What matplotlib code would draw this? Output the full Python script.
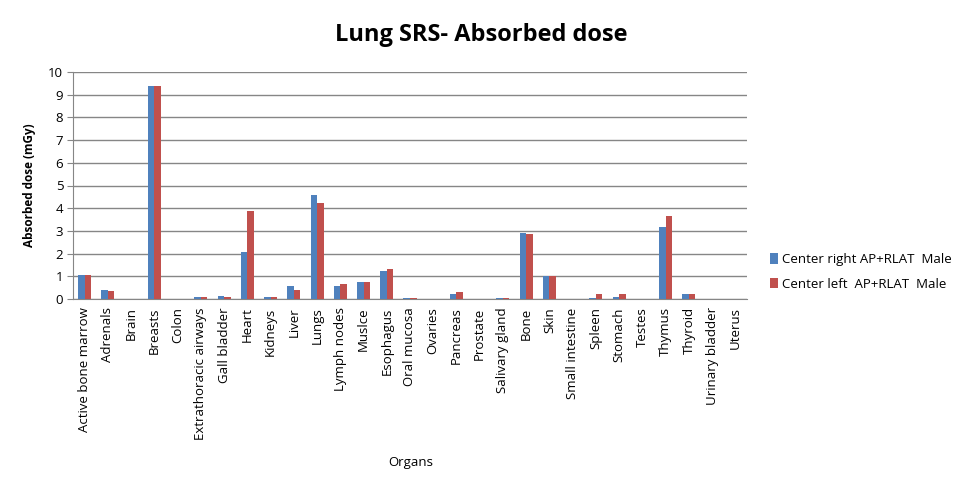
import matplotlib.pyplot as plt
import numpy as np

plt.rcParams["font.family"] = ["Open Sans", "DejaVu Sans"]

organs = [
    "Active bone marrow", "Adrenals", "Brain", "Breasts", "Colon",
    "Extrathoracic airways", "Gall bladder", "Heart", "Kidneys", "Liver",
    "Lungs", "Lymph nodes", "Muslce", "Esophagus", "Oral mucosa", "Ovaries",
    "Pancreas", "Prostate", "Salivary gland", "Bone", "Skin",
    "Small intestine", "Spleen", "Stomach", "Testes", "Thymus", "Thyroid",
    "Urinary bladder", "Uterus",
]
center_right = [
    1.05, 0.40, 0.0, 9.40, 0.0, 0.08, 0.13, 2.08, 0.08, 0.58,
    4.60, 0.58, 0.76, 1.25, 0.04, 0.0, 0.22, 0.0, 0.04, 2.92,
    1.00, 0.0, 0.04, 0.09, 0.0, 3.18, 0.22, 0.0, 0.0,
]
center_left = [
    1.05, 0.35, 0.0, 9.40, 0.0, 0.08, 0.08, 3.88, 0.08, 0.40,
    4.24, 0.66, 0.76, 1.33, 0.04, 0.0, 0.31, 0.0, 0.04, 2.87,
    1.00, 0.0, 0.22, 0.22, 0.0, 3.67, 0.22, 0.0, 0.0,
]
series_names = ["Center right AP+RLAT  Male", "Center left  AP+RLAT  Male"]


def main():
    fig = plt.figure(figsize=(9.62, 4.90), dpi=100)
    ax = fig.add_axes([73 / 962, 1 - 299 / 490, 674 / 962, 227 / 490])

    x = np.arange(len(organs))
    w = 0.28
    ax.bar(x - w / 2, center_right, w, color="#4F81BD", label=series_names[0], zorder=3)
    ax.bar(x + w / 2, center_left, w, color="#C0504D", label=series_names[1], zorder=3)

    ax.set_xlim(-0.5, len(organs) - 0.5)
    ax.set_ylim(0, 10)
    ax.set_yticks(range(0, 11))
    ax.yaxis.grid(True, color="#868686", linewidth=1, zorder=0)
    ax.set_xticks(x)
    ax.set_xticklabels(organs, rotation=90, fontsize=9.5)
    ax.tick_params(axis="x", length=0, pad=6)
    ax.tick_params(axis="y", labelsize=9.5, length=4, color="#868686", pad=3)
    for side in ["top", "right"]:
        ax.spines[side].set_visible(False)
    for side in ["left", "bottom"]:
        ax.spines[side].set_color("#868686")

    ax.set_ylabel("Absorbed dose (mGy)", fontsize=8.5, fontweight="bold", labelpad=9)
    fig.text(411 / 962, 1 - 462 / 490, "Organs", fontsize=9.5,
             ha="center", va="center")
    fig.suptitle("Lung SRS- Absorbed dose", x=0.5, y=1 - 35 / 490, va="center",
                 fontsize=17, fontweight="bold")

    fig.legend(loc="center left", bbox_to_anchor=(758 / 962, 1 - 272 / 490),
               frameon=False, fontsize=9.5, handlelength=0.6, handleheight=0.8,
               handletextpad=0.3, labelspacing=0.9)

    fig.savefig("out.png", facecolor="white")
    plt.close(fig)


if __name__ == "__main__":
    main()
